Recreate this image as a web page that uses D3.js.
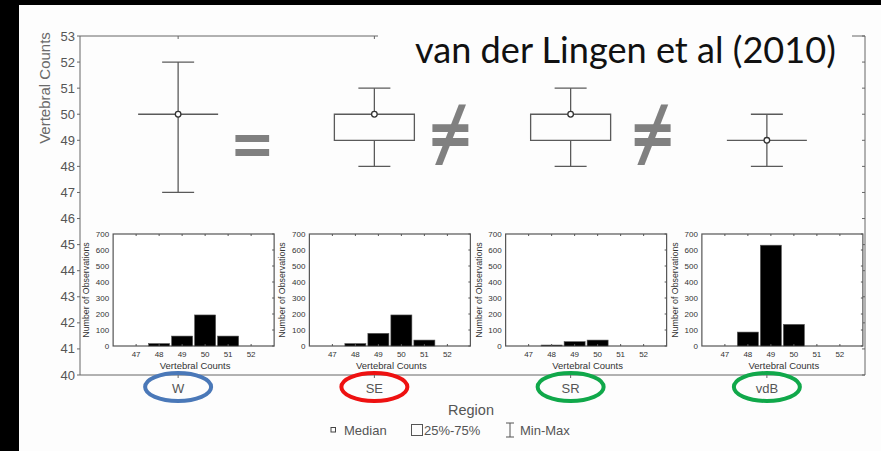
<!DOCTYPE html>
<html><head><meta charset="utf-8">
<script src="https://cdn.jsdelivr.net/npm/d3@7"></script>
<style>html,body{margin:0;padding:0;background:#fff;overflow:hidden}svg{display:block}</style>
</head><body>
<script>
// ---- data ----
const regions = ["W", "SE", "SR", "vdB"];
const minV    = [47, 48, 48, 48];
const q1V     = [50, 49, 49, 49];
const medianV = [50, 50, 50, 49];
const q3V     = [50, 50, 50, 49];
const maxV    = [52, 51, 51, 50];
const yTicks  = [40, 41, 42, 43, 44, 45, 46, 47, 48, 49, 50, 51, 52, 53];
const ringColors = ["#4a78b8", "#ee1111", "#10a84a", "#10a84a"];
const histBins = [47, 48, 49, 50, 51, 52];
const histW   = [0, 15, 62, 194, 62, 0];
const histSE  = [0, 15, 79, 194, 37, 0];
const histSR  = [0, 6, 27, 37, 0, 0];
const histVdB = [0, 87, 630, 135, 0, 0];
const histYTicks = [0, 100, 200, 300, 400, 500, 600, 700];
const symbols = ["=", "≠", "≠"];
const titleText = "van der Lingen et al (2010)";
const legendItems = ["Median", "25%-75%", "Min-Max"];

const W = 881, H = 451;
const svg = d3.select("body").append("svg").attr("width", W).attr("height", H);
svg.append("rect").attr("width", W).attr("height", H).attr("fill", "#fdfdfd");

const L = 80, R = 865, T = 36, B = 375;
const x = d3.scaleBand().domain(regions).range([L, R]);
const y = d3.scaleLinear().domain([40, 53]).range([B, T]);
const axisCol = "#666", lineCol = "#5a5a5a", txtCol = "#555";
const font = "'Liberation Sans', Arial, sans-serif";

// frame
const g = svg.append("g");
g.append("line").attr("x1", L).attr("x2", L).attr("y1", T).attr("y2", B).attr("stroke", axisCol);
g.append("line").attr("x1", L).attr("x2", R).attr("y1", B).attr("y2", B).attr("stroke", axisCol);
g.append("line").attr("x1", R).attr("x2", R).attr("y1", T).attr("y2", B).attr("stroke", axisCol);
g.append("line").attr("x1", L).attr("x2", R).attr("y1", T).attr("y2", T).attr("stroke", axisCol);
yTicks.forEach(t => {
  g.append("line").attr("x1", L - 3).attr("x2", L).attr("y1", y(t)).attr("y2", y(t)).attr("stroke", axisCol);
  g.append("line").attr("x1", R - 3).attr("x2", R).attr("y1", y(t)).attr("y2", y(t)).attr("stroke", axisCol);
  g.append("text").attr("x", L - 5).attr("y", y(t) + 4.5).attr("text-anchor", "end")
    .attr("font-family", font).attr("font-size", 13).attr("fill", txtCol).text(t);
});
regions.forEach(r => {
  const cx = x(r) + x.bandwidth() / 2;
  g.append("line").attr("x1", cx).attr("x2", cx).attr("y1", B).attr("y2", B + 3).attr("stroke", axisCol);
  g.append("line").attr("x1", cx).attr("x2", cx).attr("y1", T).attr("y2", T + 3).attr("stroke", axisCol);
});
g.append("text").attr("transform", `translate(50,88) rotate(-90)`).attr("text-anchor", "middle")
  .attr("font-family", font).attr("font-size", 15).attr("fill", "#6a6a6a").text("Vertebral Counts");

// box plots
const boxW = 80, capW = 32;
regions.forEach((r, i) => {
  const cx = x(r) + x.bandwidth() / 2;
  const bg = g.append("g").attr("stroke", lineCol).attr("stroke-width", 1.3).attr("fill", "none");
  bg.append("line").attr("x1", cx).attr("x2", cx).attr("y1", y(maxV[i])).attr("y2", y(q3V[i]));
  bg.append("line").attr("x1", cx).attr("x2", cx).attr("y1", y(q1V[i])).attr("y2", y(minV[i]));
  bg.append("line").attr("x1", cx - capW / 2).attr("x2", cx + capW / 2).attr("y1", y(maxV[i])).attr("y2", y(maxV[i]));
  bg.append("line").attr("x1", cx - capW / 2).attr("x2", cx + capW / 2).attr("y1", y(minV[i])).attr("y2", y(minV[i]));
  const x0 = cx - boxW / 2, x1 = cx + boxW / 2, yt = y(q3V[i]), yb = y(q1V[i]);
  bg.append("path").attr("d", `M${x0},${yt}H${x1}V${yb}H${x0}Z`);
  bg.append("circle").attr("cx", cx).attr("cy", y(medianV[i])).attr("r", 2.8).attr("fill", "#fff")
    .attr("stroke", "#333").attr("stroke-width", 1.3);
});

// title with white backing
svg.append("rect").attr("x", 378).attr("y", 30).attr("width", 474).attr("height", 12).attr("fill", "#fdfdfd");
const title = svg.append("text").attr("x", 415).attr("y", 63).attr("font-family", "Lato, 'Open Sans', sans-serif")
  .attr("font-size", 30).attr("fill", "#111").text(titleText);
const tw = title.node().getComputedTextLength();
title.attr("font-size", 30 * 421 / tw);

// symbols between boxes
const symOffset = [-24, -22, -16];
symbols.forEach((s, i) => {
  const xm = (x(regions[i]) + x.bandwidth() / 2 + x(regions[i + 1]) + x.bandwidth() / 2) / 2;
  const isEq = s === "=";
  svg.append("text").attr("x", xm + symOffset[i]).attr("y", isEq ? 172 : 161).attr("text-anchor", "middle")
    .attr("font-family", isEq ? "Lato, sans-serif" : "'Noto Sans', sans-serif")
    .attr("font-weight", "bold").attr("font-size", isEq ? 76 : 74)
    .attr("fill", "#808080").text(s);
});

// histograms
const hists = [histW, histSE, histSR, histVdB];
regions.forEach((r, i) => {
  const left = x(r) + x.bandwidth() / 2 - 65;
  const hx = d3.scaleLinear().domain([46, 53]).range([left, left + 161]);
  const hy = d3.scaleLinear().domain([0, 700]).range([346, 234]);
  const hg = svg.append("g");
  hg.append("rect").attr("x", left).attr("y", 234).attr("width", 161).attr("height", 112)
    .attr("fill", "#fff").attr("stroke", "#555").attr("stroke-width", 1.2);
  histBins.forEach((b, j) => {
    const v = hists[i][j];
    if (v > 0) hg.append("rect").attr("x", hx(b - 0.5) + 1).attr("width", hx(b + 0.5) - hx(b - 0.5) - 2)
      .attr("y", hy(v)).attr("height", hy(0) - hy(v)).attr("fill", "#000").attr("stroke", "#555").attr("stroke-width", 0.6);
    hg.append("text").attr("x", hx(b)).attr("y", 357).attr("text-anchor", "middle")
      .attr("font-family", font).attr("font-size", 8).attr("fill", "#333").text(b);
    hg.append("line").attr("x1", hx(b)).attr("x2", hx(b)).attr("y1", 234).attr("y2", 236).attr("stroke", "#555");
    hg.append("line").attr("x1", hx(b)).attr("x2", hx(b)).attr("y1", 346).attr("y2", 344).attr("stroke", "#555");
  });
  histYTicks.forEach(t => {
    hg.append("text").attr("x", left - 4).attr("y", hy(t) + 3).attr("text-anchor", "end")
      .attr("font-family", font).attr("font-size", 8).attr("fill", "#333").text(t);
    hg.append("line").attr("x1", left + 161).attr("x2", left + 159).attr("y1", hy(t)).attr("y2", hy(t)).attr("stroke", "#555");
  });
  hg.append("text").attr("transform", `translate(${left - 24},290) rotate(-90)`).attr("text-anchor", "middle")
    .attr("font-family", font).attr("font-size", 8.8).attr("fill", "#333").text("Number of Observations");
  hg.append("text").attr("x", left + 82).attr("y", 369).attr("text-anchor", "middle")
    .attr("font-family", font).attr("font-size", 9.5).attr("fill", "#333").text("Vertebral Counts");
});

// category labels and rings
regions.forEach((r, i) => {
  const cx = x(r) + x.bandwidth() / 2;
  svg.append("text").attr("x", cx).attr("y", 393).attr("text-anchor", "middle")
    .attr("font-family", font).attr("font-size", 13).attr("fill", txtCol).text(r);
  svg.append("ellipse").attr("cx", cx).attr("cy", 387).attr("rx", 33).attr("ry", 14)
    .attr("fill", "none").attr("stroke", ringColors[i]).attr("stroke-width", 4);
});
svg.append("text").attr("x", 471).attr("y", 415).attr("text-anchor", "middle")
  .attr("font-family", font).attr("font-size", 14.5).attr("fill", txtCol).text("Region");

// legend
const lg = svg.append("g").attr("font-family", font).attr("font-size", 13).attr("fill", txtCol);
lg.append("rect").attr("x", 331).attr("y", 427.5).attr("width", 4.5).attr("height", 4.5).attr("fill", "#fff").attr("stroke", "#444");
lg.append("text").attr("x", 344).attr("y", 435).text(legendItems[0]);
lg.append("rect").attr("x", 411.5).attr("y", 424.5).attr("width", 11).attr("height", 11).attr("fill", "none").attr("stroke", "#555");
lg.append("text").attr("x", 424).attr("y", 435).text(legendItems[1]);
lg.append("line").attr("x1", 510).attr("x2", 510).attr("y1", 423).attr("y2", 437).attr("stroke", "#555");
lg.append("line").attr("x1", 506).attr("x2", 514).attr("y1", 423).attr("y2", 423).attr("stroke", "#555");
lg.append("line").attr("x1", 506).attr("x2", 514).attr("y1", 437).attr("y2", 437).attr("stroke", "#555");
lg.append("text").attr("x", 520).attr("y", 435).text(legendItems[2]);

// black border strips
svg.append("rect").attr("x", 0).attr("y", 0).attr("width", 19).attr("height", H).attr("fill", "#000");
svg.append("rect").attr("x", 0).attr("y", 0).attr("width", W).attr("height", 5).attr("fill", "#000");
</script>
</body></html>
